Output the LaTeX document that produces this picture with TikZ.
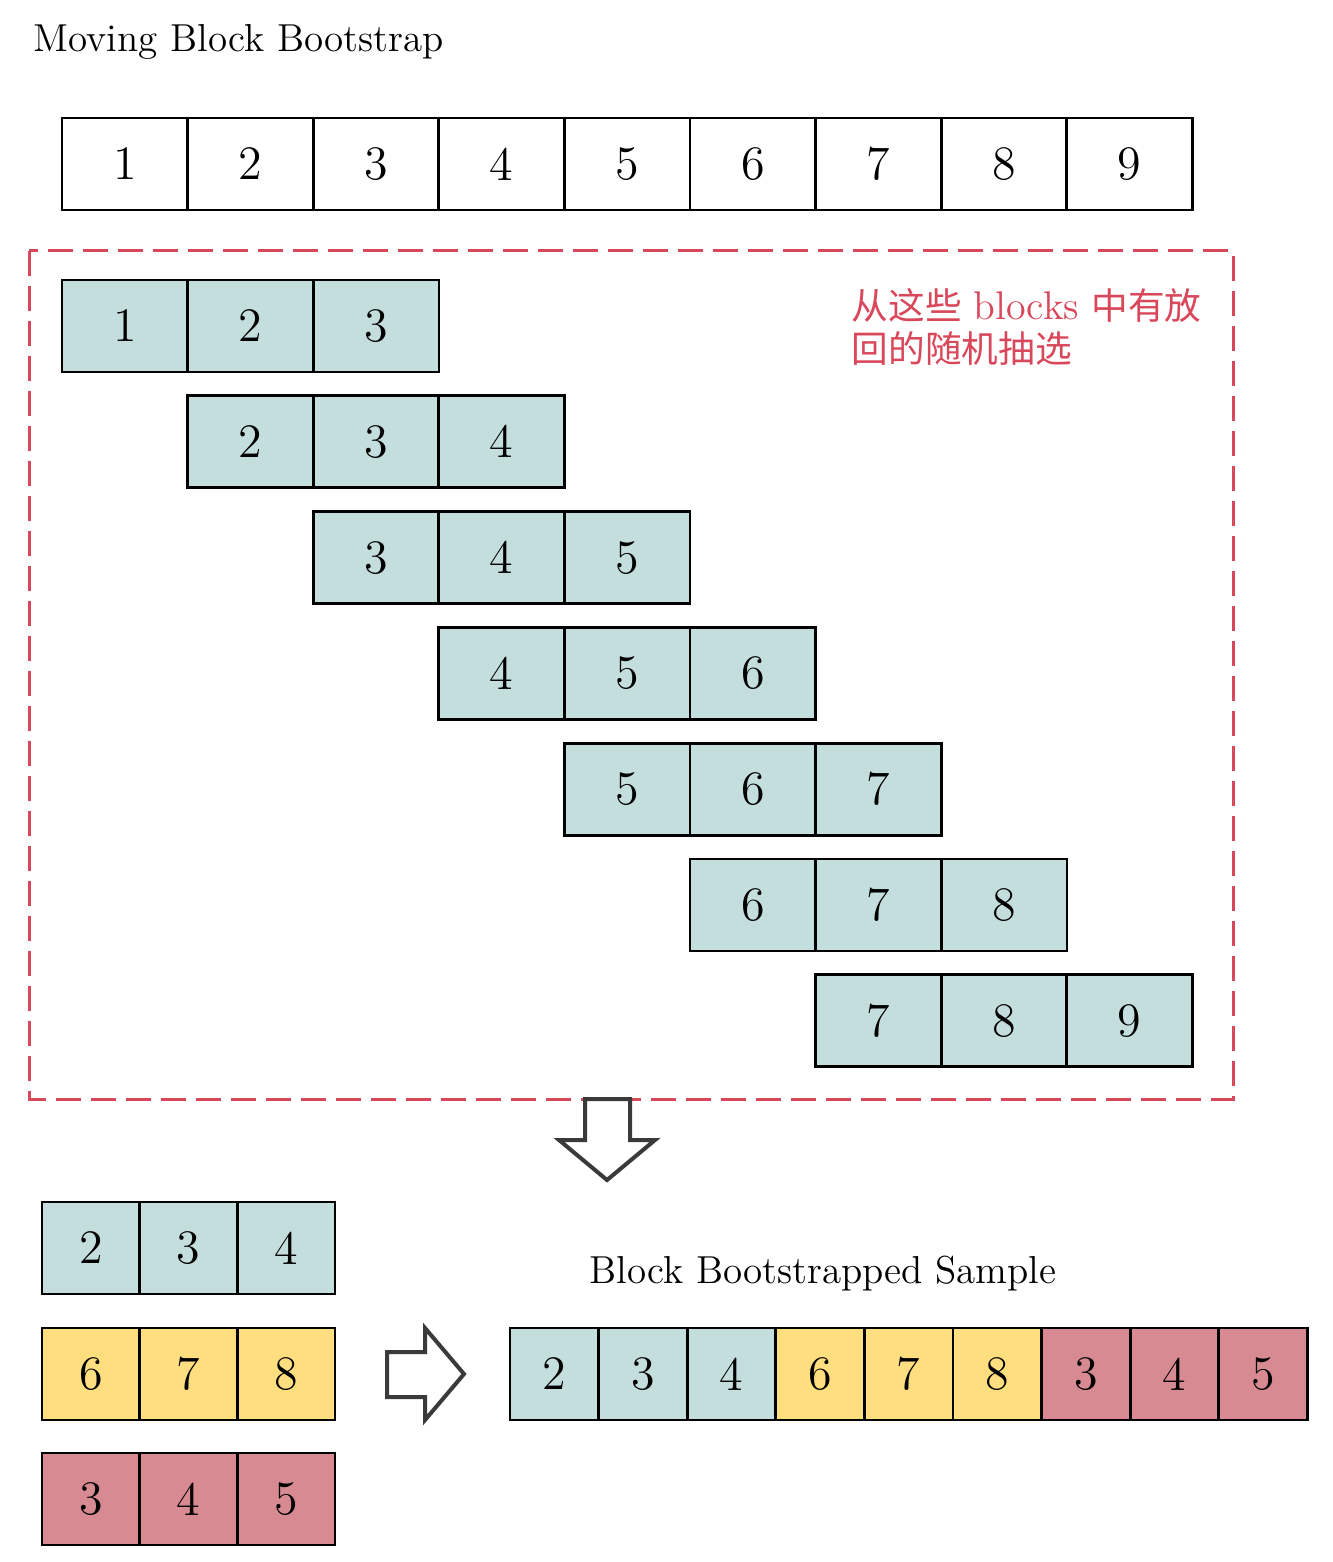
\documentclass[tikz,border=0pt]{standalone}
\usepackage{fontspec}
\newfontfamily\cjk{Noto Sans CJK SC}
\usetikzlibrary{positioning}
\definecolor{blockteal}{HTML}{C4DEDD}
\definecolor{blockyellow}{HTML}{FFDE7F}
\definecolor{blockred}{HTML}{D88A93}
\definecolor{pickred}{HTML}{D9475A}
\definecolor{arrowgray}{HTML}{3A3A3A}

\begin{document}
\begin{tikzpicture}[x=0.3pt, y=-0.3pt,
  cell/.style={draw, line width=0.8pt, inner sep=0pt, outer sep=0pt,
               minimum width=37.7pt, minimum height=27.6pt, font=\Large},
  smallcell/.style={cell, minimum width=29.3pt},
  samplecell/.style={cell, minimum width=26.6pt},
  pickbox/.style={draw=pickred, line width=0.9pt, dash pattern=on 7.5pt off 3pt},
  bigarrow/.style={draw=arrowgray, line width=1.2pt, fill=white, line join=miter},
  label/.style={inner sep=0pt, font=\fontsize{11.7}{14}\selectfont}]
\useasboundingbox (0,0) rectangle (1332,1562);

\node[label, anchor=base west] (title) at (33,52) {Moving Block Bootstrap};

% the series
\foreach \i in {1,...,9}
  \node[cell] (x\i) at ({62+125.6*(\i-0.5)},164) {\i};

% overlapping blocks
\draw[pickbox] (29,251) rectangle (1233,1099);
\foreach \k in {1,...,7}
  \foreach \j in {0,1,2} {
    \pgfmathtruncatemacro{\v}{\k+\j}
    \node[cell, fill=blockteal] (mb\k-\j) at ({62+125.6*(\v-0.5)},{326+115.8*(\k-1)}) {\v};
  }
\node[anchor=base west, align=left, inner sep=0pt, text=pickred,
      font=\fontsize{11}{12.9}\selectfont]
  (note) at (851,363) {{\cjk 从这些} {\fontsize{12}{12.9}\selectfont blocks} {\cjk 中有放}\\{\cjk 回的随机抽选}};

\draw[bigarrow] (585,1099) -- (630,1099) -- (630,1140) -- (655,1140) -- (607,1180)
  -- (559,1140) -- (585,1140) -- cycle;

% drawn blocks
\foreach \vals/\col/\yy [count=\r] in {{2,3,4}/blockteal/1248, {6,7,8}/blockyellow/1374, {3,4,5}/blockred/1499}
  \foreach \v [count=\c] in \vals
    \node[smallcell, fill=\col] (pick\r-\c) at ({42+97.7*(\c-0.5)},\yy) {\v};

\draw[bigarrow] (387,1352) -- (425,1352) -- (425,1328) -- (464,1374) -- (425,1420)
  -- (425,1397) -- (387,1397) -- cycle;

% resulting sample
\foreach \v/\col [count=\c] in {2/blockteal, 3/blockteal, 4/blockteal, 6/blockyellow,
    7/blockyellow, 8/blockyellow, 3/blockred, 4/blockred, 5/blockred}
  \node[samplecell, fill=\col] (s\c) at ({510+88.6*(\c-0.5)},1374) {\v};
\node[label, anchor=base] (samplelabel) at (823,1283) {Block Bootstrapped Sample};
\end{tikzpicture}
\end{document}
